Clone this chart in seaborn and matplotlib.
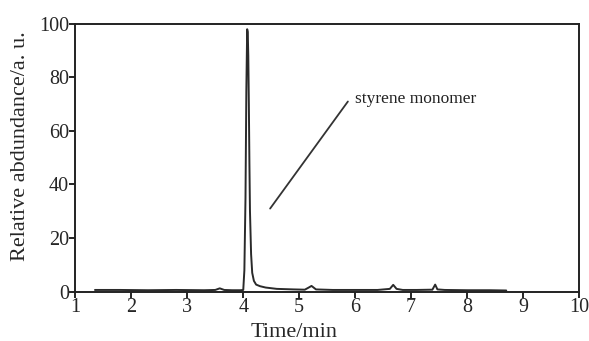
import matplotlib
matplotlib.use("Agg")
import matplotlib.pyplot as plt
import seaborn as sns
import pandas as pd

# Chromatogram trace
time_min = [1.35, 1.8, 2.3, 2.8, 3.3, 3.5, 3.58, 3.66, 3.8, 3.95, 4.0, 4.02, 4.04,
            4.055, 4.07, 4.08, 4.09, 4.10, 4.11, 4.12, 4.14, 4.16, 4.19, 4.23,
            4.3, 4.4, 4.6, 4.9, 5.1, 5.17, 5.22, 5.3, 5.6, 6.0, 6.4, 6.62,
            6.68, 6.74, 6.85, 7.1, 7.38, 7.43, 7.47, 7.6, 8.0, 8.4, 8.7]
abundance = [0.6, 0.6, 0.5, 0.6, 0.5, 0.6, 1.2, 0.6, 0.5, 0.5, 0.6, 8, 35,
             75, 98, 97, 88, 70, 48, 30, 14, 7, 4, 2.6,
             2.0, 1.5, 1.0, 0.8, 0.7, 1.5, 2.1, 0.8, 0.6, 0.6, 0.6, 1.0,
             2.5, 1.0, 0.6, 0.6, 0.7, 2.6, 0.8, 0.6, 0.5, 0.5, 0.4]

x_ticks = [1, 2, 3, 4, 5, 6, 7, 8, 9, 10]
y_ticks = [0, 20, 40, 60, 80, 100]
label_text = "styrene monomer"
pointer_start = (4.48, 31)
pointer_end = (5.87, 71)

sns.set_style("ticks")
plt.rcParams['font.family'] = ['Liberation Serif', 'DejaVu Serif']

df = pd.DataFrame({"Time": time_min, "Abundance": abundance})

fig, ax = plt.subplots(figsize=(5.89, 3.41), dpi=100)
sns.lineplot(data=df, x="Time", y="Abundance", ax=ax, color="#2a2a2a",
             linewidth=1.4, estimator=None, sort=False)

ax.set_xlim(1, 10)
ax.set_ylim(0, 100)
ax.set_xticks(x_ticks)
ax.set_yticks(y_ticks)
ax.tick_params(axis="both", labelsize=14.5, direction="out", length=4,
               width=1.2, color="black", pad=0.5, top=False, right=False)
for side in ["top", "right", "bottom", "left"]:
    ax.spines[side].set_visible(True)
    ax.spines[side].set_linewidth(1.4)
    ax.spines[side].set_color("#222222")

ax.set_xlabel("Time/min", fontsize=16)
ax.set_ylabel("Relative abdundance/a. u.", fontsize=16)
# the original labels sit a bit off-centre
ax.xaxis.set_label_coords(0.434, -0.118)
ax.yaxis.set_label_coords(-0.09, 0.545)

ax.plot([pointer_start[0], pointer_end[0]], [pointer_start[1], pointer_end[1]],
        color="#333333", linewidth=1.3)
ax.text(pointer_end[0] + 0.12, pointer_end[1] + 1.0, label_text, fontsize=12.5,
        va="center", ha="left", color="#222222")

fig.subplots_adjust(left=0.128, right=0.983, top=0.93, bottom=0.145)
fig.savefig("out.png", dpi=100)
